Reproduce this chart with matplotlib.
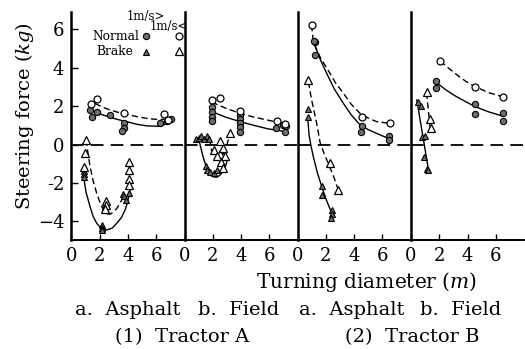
import numpy as np
import matplotlib
matplotlib.use('Agg')
import matplotlib.pyplot as plt

plt.rcParams['font.family'] = 'DejaVu Serif'
plt.rcParams['mathtext.fontset'] = 'dejavuserif'

# panel titles
surfaces = ['a.  Asphalt', 'b.  Field', 'a.  Asphalt', 'b.  Field']
tractors = ['(1)  Tractor A', '(2)  Tractor B']

# ---- (1) Tractor A, asphalt
a1_nf_x = [1.35, 1.5, 1.85, 2.75, 3.75, 3.7, 3.6, 6.3, 6.8, 7.05]
a1_nf_y = [1.8, 1.42, 1.7, 1.52, 1.1, 0.86, 0.7, 1.1, 1.25, 1.35]
a1_nh_x = [1.37, 1.85, 3.75, 6.55, 6.85]
a1_nh_y = [2.1, 2.35, 1.66, 1.57, 1.3]
a1_ns_x = [1.38, 2.0, 2.74, 3.3, 3.93, 4.6, 5.35, 6.29, 6.8, 7.12]
a1_ns_y = [1.8, 1.6, 1.42, 1.3, 1.19, 1.06, 0.97, 0.95, 1.1, 1.36]
a1_nd_x = [1.68, 2.2, 2.74, 3.3, 3.93, 4.6, 5.35, 6.0, 6.6]
a1_nd_y = [2.14, 1.95, 1.8, 1.68, 1.57, 1.46, 1.36, 1.31, 1.31]
a1_bf_x = [0.9, 0.9, 0.9, 2.15, 2.15, 2.2, 3.65, 3.75, 3.9, 4.05]
a1_bf_y = [-1.4, -1.55, -1.7, -4.2, -4.35, -4.45, -2.55, -2.7, -2.9, -2.5]
a1_bh_x = [1.05, 0.95, 0.9, 2.45, 2.45, 2.4, 4.05, 4.05, 4.05, 4.1]
a1_bh_y = [0.25, -0.45, -1.15, -2.95, -3.15, -3.35, -0.9, -1.35, -1.8, -2.1]
a1_bs_x = [0.85, 1.05, 1.33, 1.55, 1.8, 2.1, 2.5, 2.9, 3.22, 3.55, 3.81, 4.0, 4.16]
a1_bs_y = [-1.6, -2.5, -3.24, -3.75, -4.1, -4.35, -4.45, -4.35, -4.1, -3.8, -3.41, -2.95, -2.37]
a1_bd_x = [1.05, 1.15, 1.33, 1.55, 1.8, 2.05, 2.27, 2.5, 2.75, 3.0, 3.25, 3.6]
a1_bd_y = [0.25, -0.3, -1.16, -1.9, -2.54, -3.05, -3.4, -3.6, -3.63, -3.5, -3.3, -2.85]

# ---- (1) Tractor A, field
a2_nf_x = [1.93, 1.93, 1.93, 1.93, 3.94, 3.94, 3.94, 3.94, 3.94, 6.5, 6.95, 7.2, 7.15]
a2_nf_y = [1.94, 1.71, 1.45, 1.24, 1.54, 1.31, 1.1, 0.9, 0.67, 0.84, 1.0, 0.95, 0.67]
a2_nh_x = [1.93, 2.52, 3.94, 6.54, 7.1]
a2_nh_y = [2.32, 2.4, 1.76, 1.24, 1.05]
a2_ns_x = [1.9, 2.9, 3.9, 4.9, 5.9, 6.9]
a2_ns_y = [1.72, 1.43, 1.2, 1.0, 0.82, 0.7]
a2_nd_x = [1.93, 2.9, 3.94, 4.9, 5.9, 7.0]
a2_nd_y = [2.2, 1.9, 1.62, 1.43, 1.27, 1.1]
a2_bf_x = [0.8, 1.0, 1.2, 1.4, 1.6, 1.75, 1.5, 1.6, 1.8, 2.1, 2.3]
a2_bf_y = [0.3, 0.35, 0.42, 0.3, 0.45, 0.3, -1.1, -1.35, -1.45, -1.5, -1.35]
a2_bh_x = [2.1, 2.5, 2.7, 2.9, 2.6, 2.3, 2.7, 2.5, 3.2]
a2_bh_y = [-0.3, -0.5, -0.2, -0.6, -0.9, -0.6, -1.2, 0.2, 0.6]
a2_bs_x = [1.0, 1.15, 1.3, 1.57, 1.8, 2.04, 2.3, 2.5, 2.7, 2.87, 3.0]
a2_bs_y = [0.3, -0.15, -0.6, -1.24, -1.55, -1.68, -1.7, -1.6, -1.42, -1.2, -0.9]
a2_bd_x = [1.8, 1.85, 1.95, 2.2, 2.45, 2.7, 2.95, 3.2]
a2_bd_y = [0.3, -0.05, -0.4, -0.68, -0.72, -0.55, -0.15, 0.5]

# ---- (2) Tractor B, asphalt
b1_nf_x = [1.24, 1.2, 1.24, 4.55, 4.5, 6.5, 6.5]
b1_nf_y = [5.35, 5.4, 4.66, 0.96, 0.67, 0.44, 0.25]
b1_nh_x = [1.0, 4.55, 6.56]
b1_nh_y = [6.22, 1.42, 1.14]
b1_ns_x = [1.2, 1.6, 2.07, 2.6, 3.25, 3.8, 4.43, 5.0, 5.6, 6.5]
b1_ns_y = [5.2, 4.45, 3.7, 2.9, 2.14, 1.55, 1.02, 0.78, 0.58, 0.3]
b1_nd_x = [1.0, 1.12, 1.6, 2.19, 2.7, 3.25, 3.8, 4.43, 5.0, 5.6, 6.56]
b1_nd_y = [6.22, 5.35, 4.55, 3.84, 3.2, 2.67, 2.1, 1.62, 1.38, 1.19, 1.1]
b1_bf_x = [0.72, 0.75, 1.72, 1.75, 2.43, 2.45, 2.4]
b1_bf_y = [1.83, 1.42, -2.16, -2.63, -3.41, -3.6, -3.8]
b1_bh_x = [0.72, 2.3, 2.89]
b1_bh_y = [3.36, -0.98, -2.37]
b1_bs_x = [0.72, 0.82, 0.95, 1.12, 1.4, 1.72, 2.05, 2.43]
b1_bs_y = [1.4, 0.5, -0.05, -0.63, -1.45, -2.2, -2.9, -3.58]
b1_bd_x = [0.77, 1.0, 1.36, 1.6, 1.9, 2.18, 2.55, 2.89]
b1_bd_y = [3.27, 2.32, 1.1, 0.1, -0.5, -0.98, -1.65, -2.37]

# ---- (2) Tractor B, field
b2_nf_x = [1.76, 1.8, 4.55, 4.5, 6.5, 6.5]
b2_nf_y = [3.32, 2.93, 2.11, 1.59, 1.66, 1.22]
b2_nh_x = [2.07, 4.55, 6.5]
b2_nh_y = [4.35, 3.01, 2.49]
b2_ns_x = [1.85, 2.5, 3.2, 3.9, 4.55, 5.5, 6.5]
b2_ns_y = [3.2, 2.83, 2.5, 2.22, 1.97, 1.7, 1.48]
b2_nd_x = [2.07, 2.7, 3.3, 3.9, 4.55, 5.5, 6.5]
b2_nd_y = [4.35, 3.95, 3.6, 3.28, 3.01, 2.7, 2.49]
b2_bf_x = [0.48, 0.72, 0.76, 1.0, 0.89, 1.12, 1.2]
b2_bf_y = [2.23, 2.0, 0.37, 0.44, -0.63, -1.29, -1.35]
b2_bh_x = [1.12, 1.36, 1.4]
b2_bh_y = [2.72, 1.31, 0.84]
b2_bs_x = [0.41, 1.24]
b2_bs_y = [2.32, -1.33]
b2_bd_x = [1.1, 1.35]
b2_bd_y = [2.7, 0.9]

panels = [
    (a1_nf_x, a1_nf_y, a1_nh_x, a1_nh_y, a1_ns_x, a1_ns_y, a1_nd_x, a1_nd_y,
     a1_bf_x, a1_bf_y, a1_bh_x, a1_bh_y, a1_bs_x, a1_bs_y, a1_bd_x, a1_bd_y),
    (a2_nf_x, a2_nf_y, a2_nh_x, a2_nh_y, a2_ns_x, a2_ns_y, a2_nd_x, a2_nd_y,
     a2_bf_x, a2_bf_y, a2_bh_x, a2_bh_y, a2_bs_x, a2_bs_y, a2_bd_x, a2_bd_y),
    (b1_nf_x, b1_nf_y, b1_nh_x, b1_nh_y, b1_ns_x, b1_ns_y, b1_nd_x, b1_nd_y,
     b1_bf_x, b1_bf_y, b1_bh_x, b1_bh_y, b1_bs_x, b1_bs_y, b1_bd_x, b1_bd_y),
    (b2_nf_x, b2_nf_y, b2_nh_x, b2_nh_y, b2_ns_x, b2_ns_y, b2_nd_x, b2_nd_y,
     b2_bf_x, b2_bf_y, b2_bh_x, b2_bh_y, b2_bs_x, b2_bs_y, b2_bd_x, b2_bd_y),
]

W, H = 525, 349
fig = plt.figure(figsize=(W / 100, H / 100), dpi=100)

lefts = [71.3, 184.5, 297.5, 411.0]
pw = 113.0
bot, top = 240.0, 12.0
fill = '#6e6e6e'
dash = (0, (4.5, 2.5))

axes = []
for i, p in enumerate(panels):
    (nfx, nfy, nhx, nhy, nsx, nsy, ndx, ndy,
     bfx, bfy, bhx, bhy, bsx, bsy, bdx, bdy) = p
    ax = fig.add_axes([lefts[i] / W, (H - bot) / H, pw / W, (bot - top) / H])
    ax.set_xlim(0, 8)
    ax.set_ylim(-4.97, 6.9)
    ax.axhline(0, color='k', lw=1.3, ls=(0, (7, 4)))
    ax.plot(nsx, nsy, color='k', lw=1.0)
    ax.plot(ndx, ndy, color='k', lw=1.0, ls=dash)
    ax.plot(bsx, bsy, color='k', lw=1.0)
    ax.plot(bdx, bdy, color='k', lw=1.0, ls=dash)
    ax.plot(nfx, nfy, 'o', ms=4.5, mfc=fill, mec='k', mew=0.8)
    ax.plot(nhx, nhy, 'o', ms=5, mfc='white', mec='k', mew=0.9)
    ax.plot(bfx, bfy, '^', ms=5, mfc=fill, mec='k', mew=0.8)
    ax.plot(bhx, bhy, '^', ms=5.5, mfc='white', mec='k', mew=0.9)
    for s in ['top', 'right']:
        ax.spines[s].set_visible(False)
    ax.spines['left'].set_linewidth(1.8)
    ax.spines['bottom'].set_linewidth(1.4)
    ax.set_xticks([0, 2, 4, 6])
    ax.tick_params(axis='x', direction='in', length=4, width=1, labelsize=13, pad=5)
    if i == 0:
        ax.set_yticks([-4, -2, 0, 2, 4, 6])
        ax.set_yticklabels(['\u22124', '-2', '0', '2', '4', '6'])
        ax.tick_params(axis='y', direction='in', length=5, width=1, labelsize=13, pad=5)
    else:
        ax.set_yticks([])
    axes.append(ax)

# legend inside first panel
ax0 = axes[0]
ax0.text(5.3, 6.64, '1m/s>', fontsize=8.5, ha='center', va='center')
ax0.text(6.9, 6.12, '1m/s<', fontsize=8.5, ha='center', va='center', clip_on=False)
ax0.text(4.8, 5.65, 'Normal', fontsize=8.8, ha='right', va='center')
ax0.text(4.4, 4.82, 'Brake', fontsize=8.8, ha='right', va='center')
ax0.plot([5.3], [5.65], 'o', ms=4.5, mfc=fill, mec='k', mew=0.8)
ax0.plot([5.3], [4.82], '^', ms=5, mfc=fill, mec='k', mew=0.8)
ax0.plot([7.64], [5.65], 'o', ms=5, mfc='white', mec='k', mew=0.9, clip_on=False)
ax0.plot([7.64], [4.85], '^', ms=5.5, mfc='white', mec='k', mew=0.9, clip_on=False)

fig.text(25 / W, 1 - 116 / H, 'Steering force ($\\mathit{kg}$)', rotation=90,
         ha='center', va='center', fontsize=14)
fig.text(367 / W, 1 - 282 / H, 'Turning diameter ($\\mathit{m}$)',
         ha='center', va='center', fontsize=14.5)
for cx, s in zip([128, 239, 352, 461], surfaces):
    fig.text(cx / W, 1 - 310 / H, s, ha='center', va='center', fontsize=14)
for cx, s in zip([182, 412], tractors):
    fig.text(cx / W, 1 - 337 / H, s, ha='center', va='center', fontsize=14)

fig.savefig('out.png', dpi=100)
